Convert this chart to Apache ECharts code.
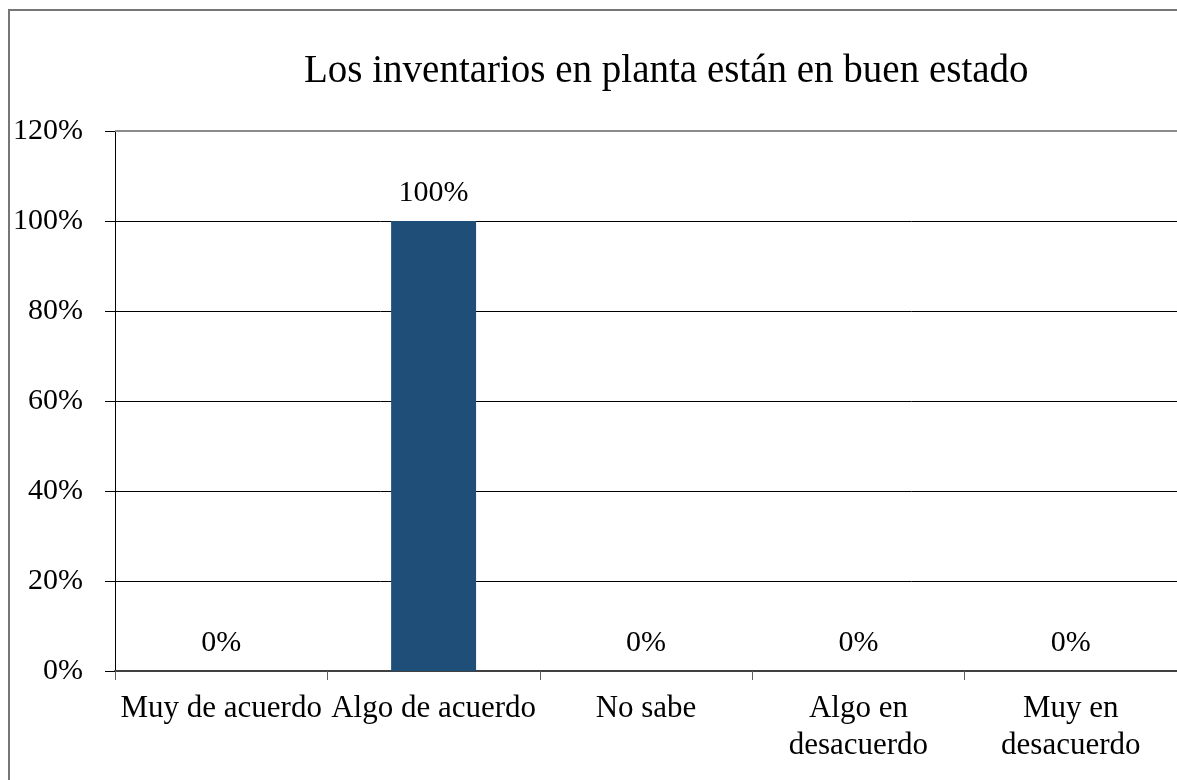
<!DOCTYPE html>
<html>
<head>
<meta charset="utf-8">
<script src="https://cdn.jsdelivr.net/npm/echarts@6/dist/echarts.min.js"></script>
<style>html,body{margin:0;padding:0;background:#fff}#c{width:1177px;height:780px}</style>
</head>
<body>
<div id="c"></div>
<script>
const titleText = 'Los inventarios en planta están en buen estado';
const categories = ['Muy de acuerdo', 'Algo de acuerdo', 'No sabe', 'Algo en\ndesacuerdo', 'Muy en\ndesacuerdo'];
const values = [0, 1, 0, 0, 0];
const yMin = 0, yMax = 1.2, yStep = 0.2;

const FONT = '"Liberation Serif", "Times New Roman", serif';
const chart = echarts.init(document.getElementById('c'));
chart.setOption({
  backgroundColor: '#fff',
  animation: false,
  graphic: [{
    type: 'rect', shape: { x: 9, y: 10, width: 1180, height: 780 },
    style: { fill: 'none', stroke: '#767676', lineWidth: 2 }, z: 0
  }],
  title: {
    text: titleText, left: 299, top: 47,
    textStyle: { fontFamily: FONT, fontSize: 39, fontWeight: 'normal', color: '#000' }
  },
  grid: { left: 115, right: -3, top: 131, bottom: 109, containLabel: false },
  xAxis: {
    type: 'category', data: categories, boundaryGap: true,
    axisLine: { lineStyle: { color: '#404040', width: 2 } },
    axisTick: { show: true, length: 9, lineStyle: { color: '#606060', width: 1 } },
    axisLabel: { interval: 0, margin: 19, fontFamily: FONT, fontSize: 31, color: '#000', lineHeight: 37 }
  },
  yAxis: {
    type: 'value', min: yMin, max: yMax, interval: yStep,
    axisLine: { show: true, lineStyle: { color: '#000', width: 1 } },
    axisTick: { show: true, length: 10, lineStyle: { color: '#000' } },
    axisLabel: { margin: 32, fontFamily: FONT, fontSize: 30, color: '#000',
      formatter: v => Math.round(v * 100) + '%' },
    splitLine: { show: true, lineStyle: { color: '#000', width: 1 } }
  },
  series: [{
    type: 'bar', data: values, barWidth: '40%',
    itemStyle: { color: '#1f4e79' },
    label: { show: true, position: 'top', distance: 13, fontFamily: FONT, fontSize: 30, color: '#000',
      formatter: p => Math.round(p.value * 100) + '%' },
    markLine: {
      silent: true, symbol: 'none', label: { show: false },
      lineStyle: { color: '#8c8c8c', width: 2, type: 'solid' },
      data: [{ yAxis: yMax }]
    }
  }]
});
</script>
</body>
</html>
